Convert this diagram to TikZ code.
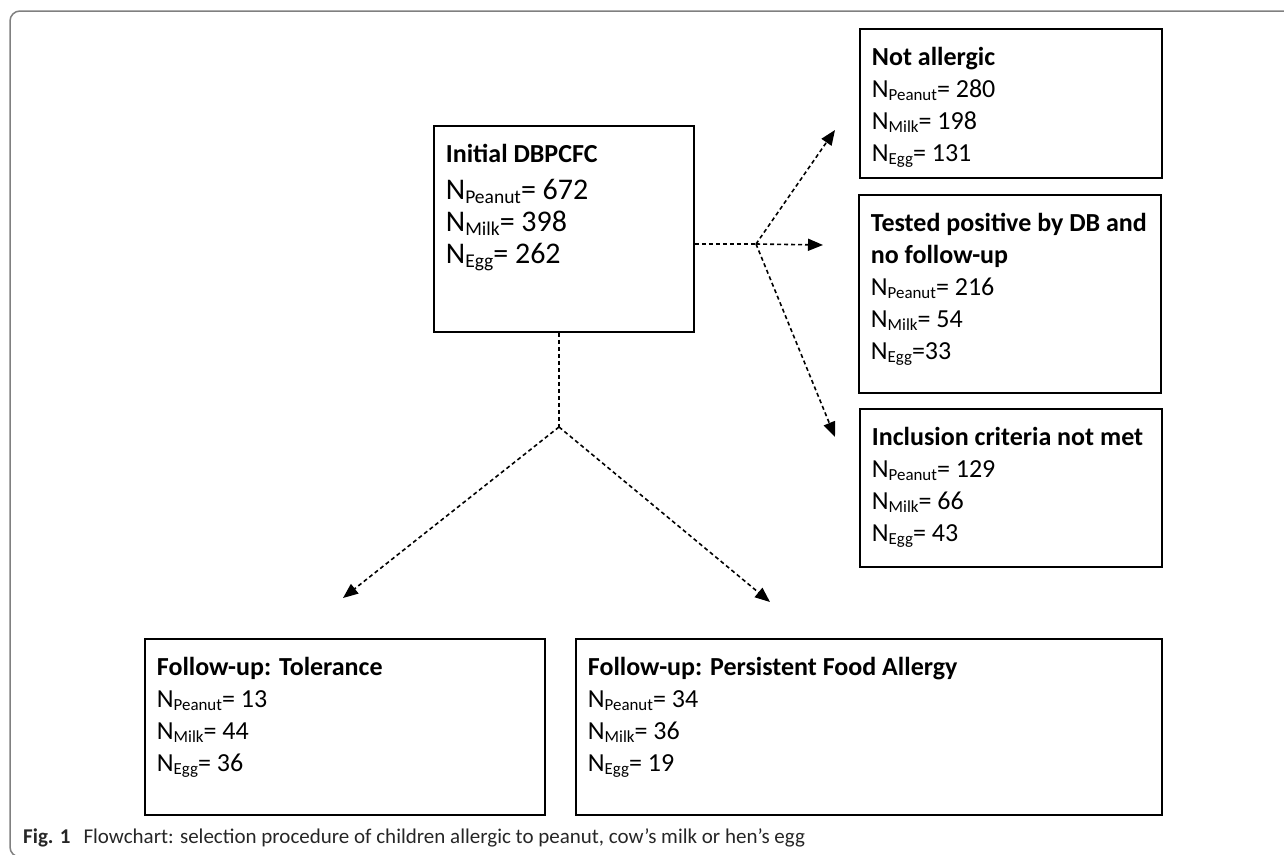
\documentclass[tikz,border=0pt]{standalone}
\usepackage{fontspec}
\setmainfont{Carlito}
\usetikzlibrary{arrows.meta, positioning, calc}

% N with a lowered, smaller food name
\newcommand{\Nsub}[1]{N\raisebox{-0.14em}{\scalebox{0.65}{#1}}}
% top aligned text block of a box: height, width, lines
\newcommand{\boxtxt}[3]{\parbox[t][#1][t]{#2}{\raggedright\fontsize{26}{32}\selectfont\strut #3}}

\begin{document}
\begin{tikzpicture}[x=1pt, y=-1pt,
    flowbox/.style={draw, line width=1.8pt, anchor=north west, inner xsep=12pt, inner ysep=14pt},
    link/.style={line width=1.6pt, dash pattern=on 4pt off 3pt},
    flow/.style={link, -{Triangle[length=15pt, width=12pt]}}]
  \useasboundingbox (0,0) rectangle (1284,854);
  \draw[black!50, line width=1.5pt, rounded corners=10pt] (10,11) rectangle (1300,857);

  % boxes
  \node[flowbox] (init) at (433,125) {\boxtxt{178pt}{236pt}{\textbf{Initial DBPCFC}\\[5pt]
        \fontsize{30}{32}\selectfont \Nsub{Peanut}= 672\\ \Nsub{Milk}= 398\\ \Nsub{Egg}= 262}};
  \node[flowbox] (notall) at (859,28) {\boxtxt{121pt}{278pt}{\textbf{Not allergic}\\
        \Nsub{Peanut}= 280\\ \Nsub{Milk}= 198\\ \Nsub{Egg}= 131}};
  \node[flowbox] (posdb) at (858,194) {\boxtxt{170pt}{278pt}{\textbf{Tested positive by DB and}\\
        \textbf{no follow-up}\\ \Nsub{Peanut}= 216\\ \Nsub{Milk}= 54\\ \Nsub{Egg}=33}};
  \node[flowbox] (incl) at (859,408) {\boxtxt{130pt}{278pt}{\textbf{Inclusion criteria not met}\\
        \Nsub{Peanut}= 129\\ \Nsub{Milk}= 66\\ \Nsub{Egg}= 43}};
  \node[flowbox] (toler) at (144,638) {\boxtxt{148pt}{376pt}{\textbf{Follow-up: Tolerance}\\
        \Nsub{Peanut}= 13\\ \Nsub{Milk}= 44\\ \Nsub{Egg}= 36}};
  \node[flowbox] (persist) at (575,638) {\boxtxt{148pt}{562pt}{\textbf{Follow-up: Persistent Food Allergy}\\
        \Nsub{Peanut}= 34\\ \Nsub{Milk}= 36\\ \Nsub{Egg}= 19}};

  % branch points and arrow ends
  \coordinate (jr) at (756,244);
  \coordinate (jb) at (559,427);
  \coordinate (endall) at (835,130);
  \coordinate (endpos) at (823,245);
  \coordinate (endincl) at (835,437);
  \coordinate (endtol) at (343,598);
  \coordinate (endper) at (770,602);

  \draw[link] (init.east |- jr) -- (jr);
  \draw[flow] (jr) -- (endall);
  \draw[flow] (jr) -- (endpos);
  \draw[flow] (jr) -- (endincl);
  \draw[link] (init.south -| jb) -- (jb);
  \draw[flow] (jb) -- (endtol);
  \draw[flow] (jb) -- (endper);

  \node[anchor=base west, font=\fontsize{21}{24}\selectfont, text=black!85, inner sep=0pt] (caption) at (23,843)
        {\textbf{Fig. 1}\hspace{13pt}Flowchart: selection procedure of children allergic to peanut, cow’s milk or hen’s egg};
\end{tikzpicture}
\end{document}
